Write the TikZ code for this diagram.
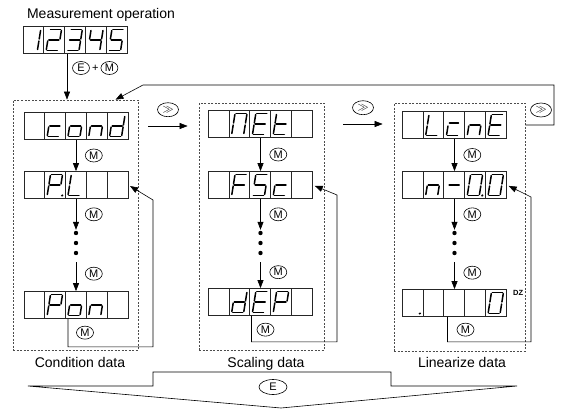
\documentclass[tikz,border=0pt]{standalone}
\usepackage{fontspec}
\setmainfont{Liberation Sans}
\usetikzlibrary{positioning,calc,shapes.geometric,arrows.meta}

\tikzset{
  lcd/.style={draw=black!85, line width=0.7pt, minimum width=104pt, minimum height=27pt, inner sep=0pt},
  lcdsep/.style={draw=black!85, line width=0.7pt},
  segment/.style={line width=1.5pt, line cap=round},
  btn/.style={ellipse, draw, line width=0.6pt, inner sep=0pt, minimum width=17pt, minimum height=13pt, font=\fontsize{11}{11}\selectfont},
  group/.style={draw=black!70, dash pattern=on 2pt off 1.5pt, line width=0.7pt, inner sep=0pt},
  flow/.style={-{Triangle[length=8pt,width=6pt]}, line width=0.6pt},
  wire/.style={line width=0.6pt},
}

% seven segment pieces (cell centre at origin, y downwards)
\newcommand{\lcdsega}{\draw[segment] (-5,-10.5) -- (5,-10.5);}
\newcommand{\lcdsegb}{\draw[segment] (6,-9.5) -- (6,-1);}
\newcommand{\lcdsegc}{\draw[segment] (6,1) -- (6,9.5);}
\newcommand{\lcdsegd}{\draw[segment] (-5,10.5) -- (5,10.5);}
\newcommand{\lcdsege}{\draw[segment] (-6,1) -- (-6,9.5);}
\newcommand{\lcdsegf}{\draw[segment] (-6,-9.5) -- (-6,-1);}
\newcommand{\lcdsegg}{\draw[segment] (-5,0) -- (5,0);}
\newcommand{\lcdsegh}{\draw[segment] (-5,-2) -- (4,-2);}
\newcommand{\lcdsegp}{\fill (9,10.5) circle (1.2);}

\newcommand{\lcdcell}[3]{%
  \begin{scope}[shift={($(#1.west)+(#2*20.8-10.4,0)$)}, xslant=0.16]
    \foreach \s in {#3} {\csname lcdseg\s\endcsname}
  \end{scope}}

\newcommand{\lcdtext}[6]{%
  \lcdcell{#1}{1}{#2}\lcdcell{#1}{2}{#3}\lcdcell{#1}{3}{#4}\lcdcell{#1}{4}{#5}\lcdcell{#1}{5}{#6}%
  \foreach \k in {1,...,4}
    \draw[lcdsep] ($(#1.south west)+(\k*20.8,0)$) -- ($(#1.north west)+(\k*20.8,0)$);}

\begin{document}
\begin{tikzpicture}[x=1pt, y=-1pt, font=\fontsize{14}{16}\selectfont]
  \useasboundingbox (0,0) rectangle (563,410);

  % measurement display
  \node[anchor=base] (meas) at (101,18) {Measurement operation};
  \node[lcd] (count) at (75,40) {};
  \lcdtext{count}{b,c}{a,b,g,e,d}{a,b,g,c,d}{f,g,b,c}{a,f,g,c,d}

  \node[btn] (ekey) at (81,68) {E};
  \node[right=2pt of ekey, inner sep=0pt, font=\fontsize{11}{11}\selectfont] (plus) {+};
  \node[btn, right=2pt of plus] (mkey) {M};

  % the three groups
  \node[group, minimum width=125pt, minimum height=250pt] (grpcond) at (75.5,225) {};
  \node[group, minimum width=125pt, minimum height=247pt] (grpscale) at (261.5,226.5) {};
  \node[group, minimum width=131pt, minimum height=248pt] (grplin) at (459.5,227) {};

  \node[anchor=base] (capcond) at (80,367) {Condition data};
  \node[anchor=base] (capscale) at (266,367) {Scaling data};
  \node[anchor=base] (caplin) at (462,367) {Linearize data};

  % condition data
  \node[lcd] (cond) at (76,126) {};
  \lcdtext{cond}{}{g,e,d}{g,c,d,e}{e,g,c}{b,c,d,e,g}
  \node[lcd] (pl) at (76,185) {};
  \lcdtext{pl}{}{a,b,f,g,e,p}{f,e,d}{}{}
  \node[minimum width=6pt, minimum height=26pt, inner sep=0pt] (dotscond) at (76,243) {};
  \node[lcd] (pon) at (76,305) {};
  \lcdtext{pon}{}{a,b,f,g,e}{g,c,d,e}{e,g,c}{}

  % scaling data
  \node[lcd] (net) at (260.5,124) {};
  \lcdtext{net}{}{a,b,c,e,f}{a,f,g,e,d}{f,g,e,d}{}
  \node[lcd] (fsc) at (260.5,185) {};
  \lcdtext{fsc}{}{a,f,g,e}{a,f,g,c,d}{g,e,d}{}
  \node[minimum width=6pt, minimum height=26pt, inner sep=0pt] (dotsscale) at (260.5,243) {};
  \node[lcd] (dep) at (260.5,302) {};
  \lcdtext{dep}{}{b,c,d,e,g}{a,f,g,e,d}{a,b,f,g,e}{}

  % linearize data
  \node[lcd] (lne) at (454.5,125) {};
  \lcdtext{lne}{}{f,e,d}{h,e,d}{e,g,c}{a,f,g,e,d}
  \node[lcd] (nzero) at (454.5,185) {};
  \lcdtext{nzero}{}{e,g,c}{g}{a,b,c,d,e,f,p}{a,b,c,d,e,f}
  \node[minimum width=6pt, minimum height=26pt, inner sep=0pt] (dotslin) at (454.5,243) {};
  \node[lcd] (dz) at (454.5,303) {};
  \lcdtext{dz}{p}{}{}{}{a,b,c,d,e,f}
  \node[anchor=west, inner sep=0pt, font=\fontsize{7.5}{7.5}\selectfont\bfseries] (dzlbl) at (513,293) {DZ};

  \foreach \d in {dotscond,dotsscale,dotslin}
    \foreach \dy in {-10,0,10}
      \fill ($(\d.center)+(0,\dy)$) circle (2.2);

  % entering the groups
  \draw[flow] ([xshift=-8pt]count.south) -- ([xshift=-8pt]count.south |- grpcond.north);
  \coordinate (loopr) at (554,85);
  \coordinate (loopl) at (143,85);
  \draw[flow] (grplin.east |- lne.east) -| (loopr) -- (loopl) -- ([xshift=40pt]grpcond.north);
  \node[btn, minimum width=21pt, minimum height=14pt] (shift3) at (541,110) {$\gg$};

  \draw[flow] ([xshift=10pt]grpcond.east |- cond.east) -- ([xshift=-11pt]grpscale.west |- cond.east)
    node[btn, minimum width=21pt, minimum height=14pt, midway, above=9pt] (shift1) {$\gg$};
  \draw[flow] ([xshift=19pt]grpscale.east |- net.east) -- ([xshift=-11pt]grplin.west |- net.east)
    node[btn, minimum width=21pt, minimum height=14pt, midway, above=9pt] (shift2) {$\gg$};

  % steps with M
  \draw[flow] (cond) -- (pl) node[btn, midway, right=9pt] (mc1) {M};
  \draw[flow] (pl) -- (dotscond) node[btn, midway, right=9pt] (mc2) {M};
  \draw[flow, shorten <=6pt] (dotscond) -- (pon) node[btn, midway, right=9pt] (mc3) {M};
  \draw[flow] (net) -- (fsc) node[btn, midway, right=9pt] (ms1) {M};
  \draw[flow] (fsc) -- (dotsscale) node[btn, midway, right=9pt] (ms2) {M};
  \draw[flow, shorten <=6pt] (dotsscale) -- (dep) node[btn, midway, right=9pt] (ms3) {M};
  \draw[flow] (lne) -- (nzero) node[btn, midway, right=9pt] (ml1) {M};
  \draw[flow] (nzero) -- (dotslin) node[btn, midway, right=9pt] (ml2) {M};
  \draw[flow, shorten <=6pt] (dotslin) -- (dz) node[btn, midway, right=9pt] (ml3) {M};

  % back to the second item
  \coordinate (backcond) at (153,200);
  \coordinate (backscale) at (337,195);
  \coordinate (backlin) at (531,197);
  \draw[flow, shorten >=2pt] ([xshift=-8pt]pon.south) -- ++(0,28) -| (backcond) -- (pl.east);
  \draw[flow, shorten >=2pt] ([xshift=-9pt]dep.south) -- ++(0,26) -| (backscale) -- (fsc.east);
  \draw[flow, shorten >=2pt] ([xshift=-7pt]dz.south) -- ++(0,25) -| (backlin) -- (nzero.east);
  \node[btn, below=7pt of pon.south, xshift=9pt] (mc4) {M};
  \node[btn, below=7pt of dep.south, xshift=5pt] (ms4) {M};
  \node[btn, below=6pt of dz.south, xshift=11pt] (ml4) {M};

  % exit with E
  \draw[wire] (28,386) -- (153,386) -- (153,372) -- (391,372) -- (391,386) -- (517,386) -- (281,408) -- cycle;
  \node[btn, minimum width=28pt, minimum height=15pt] (enter) at (273,387) {E};
\end{tikzpicture}
\end{document}
